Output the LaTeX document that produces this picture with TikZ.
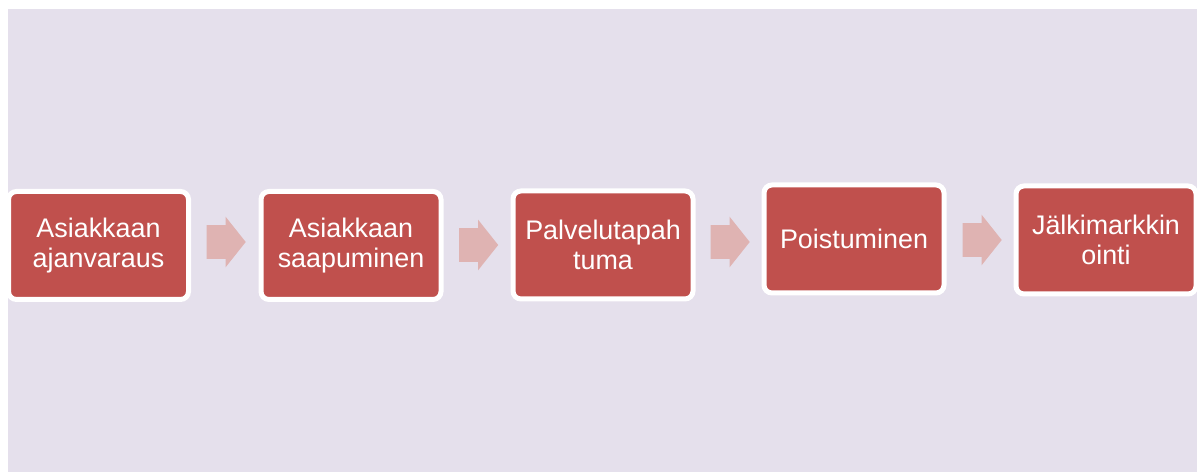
\documentclass[tikz,border=0pt]{standalone}
\usepackage{fontspec}
\setmainfont{Liberation Sans}
\usetikzlibrary{shapes.arrows}
\definecolor{lavender}{RGB}{229,224,236}
\definecolor{boxred}{RGB}{192,80,77}
\definecolor{arrowpink}{RGB}{223,179,178}
\begin{document}
\begin{tikzpicture}[>=latex,
  stage/.style={rectangle,rounded corners=0.16cm,fill=boxred,draw=white,line width=0.1cm,minimum width=3.6cm,minimum height=2.16cm,align=center,text=white,font=\fontsize{15.3}{16.8}\selectfont,inner sep=0pt},
  blockarrow/.style={single arrow,fill=arrowpink,draw=none,inner xsep=0pt,inner ysep=0.33cm,minimum height=0.78cm,single arrow head extend=0.17cm,single arrow tip angle=103}]

\useasboundingbox (0,0) rectangle (24.04,9.44);
\fill[lavender] (0.16,0) rectangle (23.94,9.26);

\node[stage] (ajanvaraus) at (1.97,4.53) {Asiakkaan\\ajanvaraus};
\node[stage] (saapuminen) at (7.02,4.53) {Asiakkaan\\saapuminen};
\node[stage] (palvelu) at (12.06,4.54) {Palvelutapah\\tuma};
\node[stage] (poistuminen) at (17.08,4.66) {Poistuminen};
\node[stage] (jalki) at (22.12,4.64) {Jälkimarkkin\\ointi};

% arrows between the stages
\node[blockarrow] (a1) at (4.39,4.60) {};
\node[blockarrow] (a2) at (9.44,4.54) {};
\node[blockarrow] (a3) at (14.47,4.60) {};
\node[blockarrow] (a4) at (19.51,4.64) {};
\end{tikzpicture}
\end{document}
